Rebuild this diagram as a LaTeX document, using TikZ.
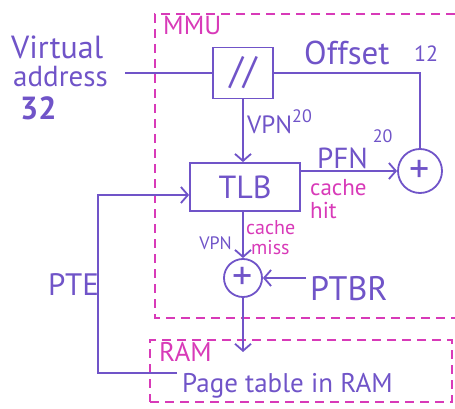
\documentclass[tikz,border=0pt]{standalone}
\usepackage{fontspec}
\setmainfont{PT Sans}
\usepackage{tikz}
\usetikzlibrary{positioning,arrows.meta}
\newcommand{\fsz}[1]{\fontsize{#1}{#1}\selectfont}
\definecolor{inkc}{RGB}{112,84,200}
\definecolor{regionc}{RGB}{216,58,184}
\tikzset{
  unit/.style    = {draw=inkc, line width=1.8pt, inner sep=0pt, text=inkc},
  adder/.style   = {circle, draw=inkc, line width=1.8pt, inner sep=0pt,
                    text=inkc, font=\fsz{40}},
  region/.style  = {draw=regionc, line width=1.6pt, dash pattern=on 9pt off 6pt},
  wire/.style    = {draw=inkc, line width=1.8pt},
  flow/.style    = {wire, -{Straight Barb[length=7pt,width=16pt]}},
  inklbl/.style  = {text=inkc, inner sep=0pt, align=left},
  hintlbl/.style = {text=regionc, inner sep=0pt, align=left},
}

\begin{document}
\begin{tikzpicture}[x=1pt, y=-1pt]
\useasboundingbox (0,0) rectangle (455,409);

% ---- regions ----
\draw[region] (455,14) -- (155,14) -- (155,318) -- (455,318);
\node[region, minimum width=302pt, minimum height=62pt, inner sep=0pt] (ramreg) at (301,371) {};
\node[hintlbl, font=\fsz{26}, anchor=north west] (mmulbl) at (163,16) {MMU};
\node[hintlbl, font=\fsz{27}, anchor=north west] (ramlbl) at (159,342) {RAM};

% ---- virtual address and splitter ----
\node[inklbl, font=\fsz{32}, anchor=base west] (vaddr) at (11,59) {Virtual};
\node[inklbl, font=\fsz{29}, anchor=base west] (vaddr2) at (13,87) {address};
\node[inklbl, font=\fsz{32}\bfseries, anchor=base west] (vbits) at (20,120) {32};
\node[unit, minimum width=60pt, minimum height=51pt, font=\fsz{38}] (split) at (243,73) {//};
\coordinate (vin) at (125,73);
\draw[wire] (vin) -- (split.west);
\node[inklbl, font=\fsz{33}, anchor=base west] (offlbl) at (304,65) {Offset};
\node[inklbl, font=\fsz{22}, anchor=base west] (offbits) at (414,62) {12};

% ---- TLB and the hit path ----
\node[unit, minimum width=110pt, minimum height=48pt, font=\fsz{32}] (tlb) at (245,187) {TLB};
\node[adder, minimum size=44pt] (sumhit) at (420,171) {+};
\draw[flow] (split.south) -- (tlb.north -| split.south);
\node[inklbl, font=\fsz{25}, anchor=base west] (vpnlbl) at (247,134)
  {VPN\raisebox{11pt}{\fsz{18}20}};
\draw[wire] (split.east) -| (sumhit.north);
\draw[flow] ([yshift=16pt]tlb.east) -- (sumhit.west);
\node[inklbl, font=\fsz{29}, anchor=base west] (pfnlbl) at (317,168)
  {PFN\hspace{5pt}\raisebox{26pt}{\fsz{18}20}};
\node[hintlbl, font=\fsz{23}, anchor=north west] (hitlbl) at (310,179) {cache\\hit};

% ---- miss path through the page table ----
\node[adder, minimum size=38pt] (sumptb) at (243,278) {+};
\draw[flow] (tlb.south -| sumptb.north) -- (sumptb.north);
\node[inklbl, font=\fsz{18}, anchor=base east] (vpnmiss) at (232,249) {VPN};
\node[hintlbl, font=\fsz{20}, anchor=north west] (misslbl) at (246,220) {cache\\\hspace{5pt}miss};
\node[inklbl, font=\fsz{34}, anchor=base west] (ptbr) at (310,300) {PTBR};
\coordinate (ptbrin) at (306,278);
\draw[flow] (ptbrin) -- (sumptb.east);
\coordinate (ramin) at (243,352);
\draw[flow] (sumptb.south) -- (ramin);

% ---- page table entry back to the TLB ----
\node[inklbl, font=\fsz{27}, anchor=base west] (ptab) at (182,392) {Page table in RAM};
\node[inklbl, font=\fsz{31}, anchor=base west] (ptelbl) at (48,295) {PTE};
\coordinate (pteout) at (177,373);
\coordinate (pteturn) at (98,373);
\draw[flow] (pteout) -- (pteturn) |- ([yshift=-8pt]tlb.west);

\end{tikzpicture}
\end{document}
